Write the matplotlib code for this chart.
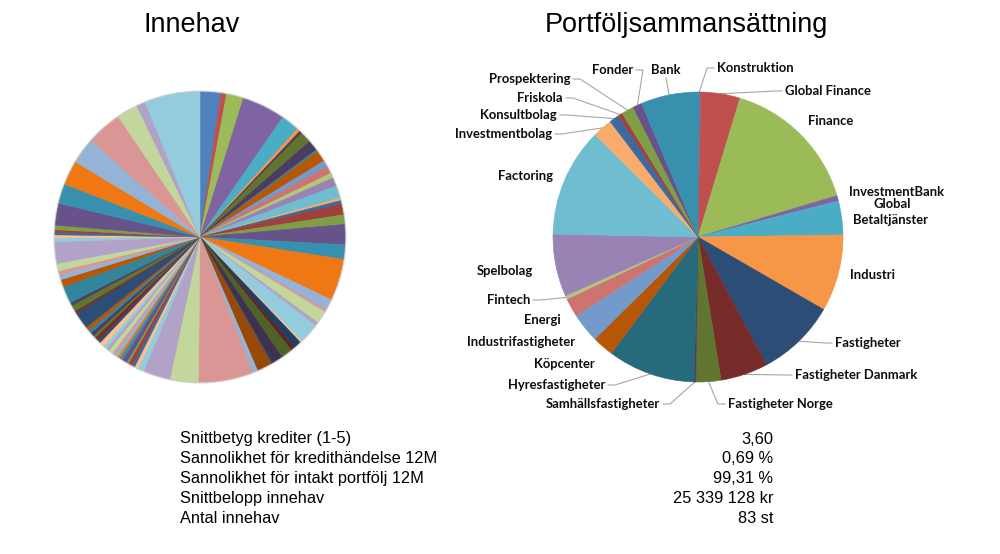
import numpy as np
import matplotlib.pyplot as plt
from matplotlib.patches import Circle

# ---- data -----------------------------------------------------------------
# Innehav: 83 holdings, sizes (relative weights)
holdings = [
    8.3, 2.2, 6.8, 17.2, 7.3, 1.3,
    0.6, 0.5, 4.5, 4.2, 0.8, 4.5,
    2.5, 3.0, 2.0, 3.4, 5.0, 1.0,
    1.4, 4.3, 3.8, 8.0, 5.8, 16.6,
    4.4, 1.0, 5.0, 1.5, 8.0, 0.8,
    3.0, 1.7, 4.6, 4.4, 0.5, 6.0,
    2.1, 21.7, 11.3, 10.8, 2.4, 1.5,
    1.2, 1.6, 0.8, 1.9, 1.3, 1.0,
    1.5, 0.9, 1.8, 1.2, 1.4, 2.0,
    1.1, 1.7, 1.0, 1.4, 1.3, 1.6,
    6.8, 1.0, 2.5, 1.2, 6.8, 3.0,
    2.0, 1.5, 3.0, 8.6, 1.5, 1.2,
    1.0, 1.0, 1.8, 8.7, 7.9, 9.7,
    10.4, 14.2, 8.4, 3.6, 22.0,
]

sectors = ["Konstruktion", "Global Finance", "Finance", "InvestmentBank", "Global",
           "Betaltjänster", "Industri", "Fastigheter", "Fastigheter Danmark",
           "Fastigheter Norge", "Samhällsfastigheter", "Hyresfastigheter", "Köpcenter",
           "Industrifastigheter", "Energi", "Fintech", "Spelbolag", "Factoring",
           "Investmentbolag", "Konsultbolag", "Friskola", "Prospektering", "Fonder", "Bank"]
sector_share = [0.3, 4.4, 15.8, 0.6, 0.2, 3.6, 8.6, 8.9, 5.3, 2.8, 0.2, 9.8, 2.4,
                3.3, 2.1, 0.4, 7.0, 12.2, 2.2, 1.1, 0.5, 1.4, 1.0, 6.4]

stat_names = ["Snittbetyg krediter (1-5)", "Sannolikhet för kredithändelse 12M",
              "Sannolikhet för intakt portfölj 12M", "Snittbelopp innehav", "Antal innehav"]
stat_values = ["3,60", "0,69 %", "99,31 %", "25 339 128 kr", "83 st"]

# ---- styles ---------------------------------------------------------------
shades = {
    "base":   ["#4F81BD", "#C0504D", "#9BBB59", "#8064A2", "#4BACC6", "#F79646"],
    "dark":   ["#2C4D75", "#772C2A", "#5F7530", "#4D3B62", "#31859C", "#B65708"],
    "light":  ["#729ACA", "#CD7371", "#AFC97A", "#9983B5", "#6FBDD1", "#F9AB6B"],
    "mid":    ["#3A6AA0", "#A0403D", "#7F9E46", "#68528A", "#3791AE", "#F07814"],
    "pale":   ["#95B3D7", "#D99694", "#C3D69B", "#B3A2C7", "#93CDDD", "#FAC090"],
    "deep":   ["#1F3F66", "#632523", "#4F6228", "#3F3151", "#215968", "#984807"],
}
set_order = ["base", "dark", "light", "mid", "pale", "deep", "pale",
             "mid", "pale", "dark", "dark", "pale", "mid", "pale"]
holding_colors = [shades[set_order[i // 6]][i % 6] for i in range(len(holdings))]

sector_colors = ["#4F81BD", "#C0504D", "#9BBB59", "#8064A2", "#4BACC6", "#4BACC6",
                 "#F79646", "#2C4D75", "#772C2A", "#5F7530", "#4D3B62", "#276A7C",
                 "#B65708", "#729ACA", "#CD7371", "#AFC97A", "#9983B5", "#6FBDD1",
                 "#F9AB6B", "#3A6AA0", "#A3403D", "#7F9E46", "#68528A", "#3791AE"]

# label anchors in pixels from top-left: (x, y, ha, leader)
label_pos = {
    "Konstruktion": (717, 68, "left", True),
    "Global Finance": (785, 91, "left", True),
    "Finance": (808, 121, "left", False),
    "InvestmentBank": (849, 192, "left", False),
    "Global": (873, 204, "left", False),
    "Betaltjänster": (853, 220, "left", False),
    "Industri": (850, 275, "left", False),
    "Fastigheter": (835, 343, "left", True),
    "Fastigheter Danmark": (795, 375, "left", True),
    "Fastigheter Norge": (728, 404, "left", True),
    "Samhällsfastigheter": (660, 404, "right", True),
    "Hyresfastigheter": (605, 385, "right", True),
    "Köpcenter": (595, 364, "right", False),
    "Industrifastigheter": (575, 342, "right", False),
    "Energi": (561, 320, "right", False),
    "Fintech": (530, 300, "right", True),
    "Spelbolag": (533, 271, "right", False),
    "Factoring": (553, 176, "right", False),
    "Investmentbolag": (552, 134, "right", True),
    "Konsultbolag": (557, 115, "right", True),
    "Friskola": (563, 98, "right", True),
    "Prospektering": (570, 79, "right", True),
    "Fonder": (633, 70, "right", True),
    "Bank": (666, 70, "center", True),
}

W, H = 1000, 554
fig = plt.figure(figsize=(W / 100, H / 100), dpi=100)
ax = fig.add_axes([0, 0, 1, 1])


def px(x, y):
    return x, H - y


left_c = px(200, 237)
right_c = px(698, 237)
R = 145

# soft rim behind the left pie
ax.add_patch(Circle(left_c, R + 1.5, color="#d0d0d0", zorder=0, lw=0))

lw, _ = ax.pie(holdings, colors=holding_colors, startangle=90, counterclock=False,
               center=left_c, radius=R, wedgeprops=dict(linewidth=0.4))

wedges, _ = ax.pie(sector_share, colors=sector_colors, startangle=90, counterclock=False,
                   center=right_c, radius=R, wedgeprops=dict(linewidth=0.4))

for w in list(lw) + list(wedges):
    w.set_edgecolor(w.get_facecolor())

for name, w in zip(sectors, wedges):
    x, y, ha, leader = label_pos[name]
    tx, ty = px(x, y)
    ax.text(tx, ty, name, ha=ha, va="center", fontsize=9.4, fontweight="bold",
            family=["Lato", "DejaVu Sans"], color="#0d0d0d")
    if not leader:
        continue
    mid = np.deg2rad((w.theta1 + w.theta2) / 2)
    ex = w.center[0] + w.r * np.cos(mid)
    ey = w.center[1] + w.r * np.sin(mid)
    if ha == "center":
        pts = [(tx, ty - 8), (ex, ey)]
    elif ha == "left":
        pts = [(tx - 3, ty), (tx - 10, ty), (ex, ey)]
    else:
        pts = [(tx + 3, ty), (tx + 10, ty), (ex, ey)]
    xs, ys = zip(*pts)
    ax.plot(xs, ys, color="#a6a6a6", lw=0.8, zorder=0.5)

ax.set_xlim(0, W)
ax.set_ylim(0, H)
ax.set_aspect("equal")
ax.axis("off")

# titles
ax.text(*px(192, 25), "Innehav", ha="center", va="center", fontsize=19.5,
        family="Liberation Sans")
ax.text(*px(686, 25), "Portföljsammansättning", ha="center", va="center", fontsize=19.5,
        family="Liberation Sans")

# key figures
for i, (n, v) in enumerate(zip(stat_names, stat_values)):
    y = 439 + i * 19.8
    ax.text(*px(180, y), n, ha="left", va="center", fontsize=11.8, family="Liberation Sans")
    ax.text(*px(773, y), v, ha="right", va="center", fontsize=11.8, family="Liberation Sans")

fig.savefig("out.png", dpi=100)
